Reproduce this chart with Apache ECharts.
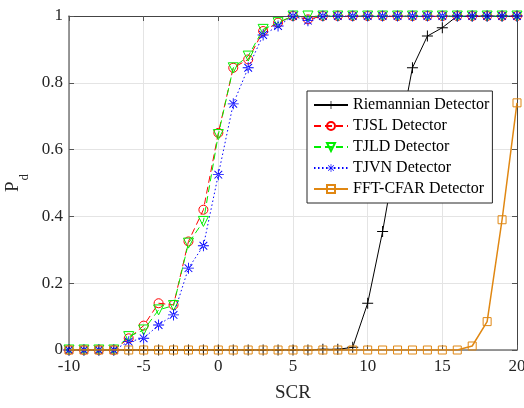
<!DOCTYPE html>
<html>
<head>
<meta charset="utf-8">
<script src="https://cdn.jsdelivr.net/npm/echarts@6/dist/echarts.min.js"></script>
<style>
  html, body { margin: 0; padding: 0; background: #fff; }
  #chart { width: 524px; height: 408px; }
</style>
</head>
<body>
<div id="chart"></div>
<script>
var scr = [-10, -9, -8, -7, -6, -5, -4, -3, -2, -1, 0, 1, 2, 3, 4, 5, 6, 7, 8, 9, 10, 11, 12, 13, 14, 15, 16, 17, 18, 19, 20];

var riemannian = [0, 0, 0, 0, 0, 0, 0, 0, 0, 0, 0, 0, 0, 0, 0, 0, 0,
    0.002, 0.002, 0.008, 0.14, 0.355, 0.61, 0.845, 0.94, 0.965, 1, 1, 1, 1, 1];
var tjsl = [0, 0, 0, 0, 0.035, 0.073, 0.14, 0.135, 0.325, 0.42, 0.65, 0.845, 0.87, 0.955, 0.98, 1, 0.99,
    1, 1, 1, 1, 1, 1, 1, 1, 1, 1, 1, 1, 1, 1];
var tjld = [0, 0, 0, 0, 0.04, 0.06, 0.12, 0.133, 0.32, 0.385, 0.645, 0.845, 0.88, 0.96, 0.98, 1, 1,
    1, 1, 1, 1, 1, 1, 1, 1, 1, 1, 1, 1, 1, 1];
var tjvn = [0, 0, 0, 0, 0.025, 0.035, 0.075, 0.105, 0.245, 0.312, 0.525, 0.737, 0.845, 0.943, 0.97, 1, 0.986,
    1, 1, 1, 1, 1, 1, 1, 1, 1, 1, 1, 1, 1, 1];
var fftCfar = [0, 0, 0, 0, 0, 0, 0, 0, 0, 0, 0, 0, 0, 0, 0, 0, 0, 0, 0, 0, 0, 0, 0, 0, 0, 0, 0,
    0.012, 0.085, 0.39, 0.74];

function pairs(vals) {
    var out = [];
    for (var i = 0; i < scr.length; i++) {
        out.push([scr[i], vals[i]]);
    }
    return out;
}

// marker shapes (MATLAB style)
var plusPath = 'path://M-0.09,-1H0.09V1H-0.09Z M-1,-0.09H1V0.09H-1Z';
var starPath = 'path://M-0.08,-1H0.08V1H-0.08Z M-1,-0.08H1V0.08H-1Z ' +
    'M-0.76,-0.64L0.64,0.76L0.76,0.64L-0.64,-0.76Z M0.64,-0.76L-0.76,0.64L-0.64,0.76L0.76,-0.64Z';
var triPath = 'path://M-1,-0.9L1,-0.9L0,0.9Z';

var serif = 'Liberation Serif';
var orange = '#e08712';

var myChart = echarts.init(document.getElementById('chart'), null, { renderer: 'canvas' });

var option = {
    animation: false,
    textStyle: { fontFamily: serif },
    grid: {
        left: 69,
        right: 7,
        top: 16,
        bottom: 58,
        containLabel: false,
        outerBoundsMode: 'none'
    },
    legend: {
        orient: 'vertical',
        left: 307,
        top: 91,
        padding: [6, 3, 6, 6],
        itemWidth: 34,
        itemHeight: 10,
        itemGap: 5,
        backgroundColor: '#fff',
        borderColor: '#262626',
        borderWidth: 1,
        textStyle: { fontFamily: serif, fontSize: 16, color: '#000' },
        data: ['Riemannian Detector', 'TJSL Detector', 'TJLD Detector', 'TJVN Detector', 'FFT-CFAR Detector']
    },
    xAxis: [
        {
            type: 'value',
            min: -10,
            max: 20,
            interval: 5,
            name: 'SCR',
            nameLocation: 'middle',
            nameGap: 34,
            nameTextStyle: { fontFamily: serif, fontSize: 19, color: '#262626' },
            axisLine: { show: true, onZero: false, lineStyle: { color: '#777', width: 1.5 } },
            axisTick: { show: true, inside: true, length: 5, lineStyle: { color: '#555' } },
            axisLabel: { fontFamily: serif, fontSize: 17, color: '#262626', margin: 8 },
            splitLine: { show: true, lineStyle: { color: '#e4e4e4', width: 1 } }
        },
        {
            type: 'value',
            position: 'top',
            min: -10,
            max: 20,
            interval: 5,
            axisLine: { show: true, onZero: false, lineStyle: { color: '#444', width: 1 } },
            axisTick: { show: true, inside: true, length: 5, lineStyle: { color: '#555' } },
            axisLabel: { show: false },
            splitLine: { show: false }
        }
    ],
    yAxis: [
        {
            type: 'value',
            min: 0,
            max: 1,
            interval: 0.2,
            name: '{p|P}{d|d}',
            nameLocation: 'middle',
            nameRotate: 90,
            nameGap: 18,
            nameTextStyle: {
                color: '#262626',
                rich: {
                    p: { fontFamily: serif, fontSize: 19, color: '#262626' },
                    d: { fontFamily: serif, fontSize: 13, color: '#262626', verticalAlign: 'bottom', padding: [22, 0, 0, 1] }
                }
            },
            axisLine: { show: true, onZero: false, lineStyle: { color: '#777', width: 1.5 } },
            axisTick: { show: true, inside: true, length: 5, lineStyle: { color: '#555' } },
            axisLabel: { fontFamily: serif, fontSize: 17, color: '#262626', margin: 6 },
            splitLine: { show: true, lineStyle: { color: '#e4e4e4', width: 1 } }
        },
        {
            type: 'value',
            position: 'right',
            min: 0,
            max: 1,
            interval: 0.2,
            axisLine: { show: true, onZero: false, lineStyle: { color: '#444', width: 1 } },
            axisTick: { show: true, inside: true, length: 5, lineStyle: { color: '#555' } },
            axisLabel: { show: false },
            splitLine: { show: false }
        }
    ],
    series: [
        {
            name: 'Riemannian Detector',
            type: 'line',
            data: pairs(riemannian),
            symbol: plusPath,
            symbolSize: 11,
            itemStyle: { color: '#000' },
            lineStyle: { color: '#000', width: 1, type: 'solid' },
            z: 2
        },
        {
            name: 'TJSL Detector',
            type: 'line',
            data: pairs(tjsl),
            symbol: 'circle',
            symbolSize: 9,
            itemStyle: { color: 'rgba(0,0,0,0)', borderColor: '#ff0000', borderWidth: 1 },
            lineStyle: { color: '#ff0000', width: 1, type: [7, 4] },
            z: 3
        },
        {
            name: 'TJLD Detector',
            type: 'line',
            data: pairs(tjld),
            symbol: triPath,
            symbolSize: 10,
            itemStyle: { color: 'rgba(0,0,0,0)', borderColor: '#00ee00', borderWidth: 1 },
            lineStyle: { color: '#00ee00', width: 1, type: [7, 4] },
            z: 4
        },
        {
            name: 'TJVN Detector',
            type: 'line',
            data: pairs(tjvn),
            symbol: starPath,
            symbolSize: 11,
            itemStyle: { color: '#0000ff' },
            lineStyle: { color: '#0000ff', width: 1, type: [1.5, 2.5] },
            z: 5
        },
        {
            name: 'FFT-CFAR Detector',
            type: 'line',
            data: pairs(fftCfar),
            symbol: 'rect',
            symbolSize: 8,
            itemStyle: { color: 'rgba(0,0,0,0)', borderColor: orange, borderWidth: 1 },
            lineStyle: { color: orange, width: 1.5, type: 'solid' },
            z: 6
        }
    ]
};

myChart.setOption(option);
</script>
</body>
</html>
